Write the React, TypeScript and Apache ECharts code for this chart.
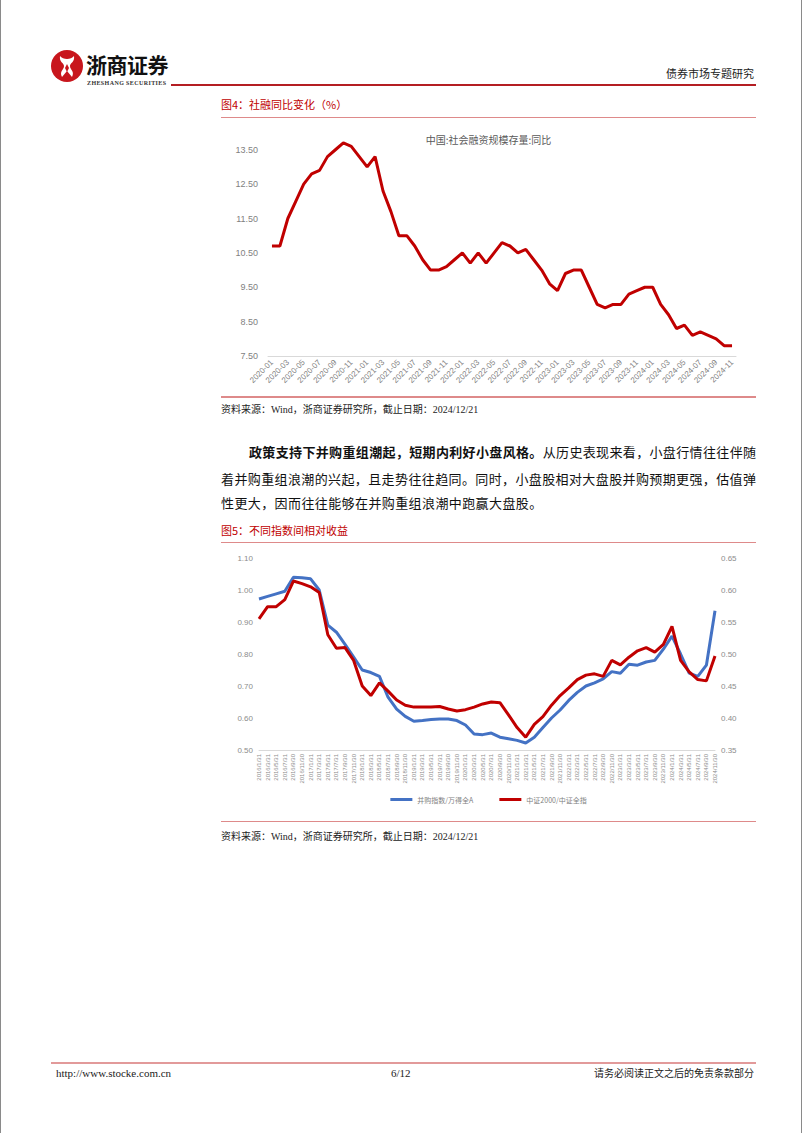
import React, { useEffect, useRef } from "react";
import * as echarts from "echarts";

// ---------- Chart 1 data: 社融存量同比 ----------
const months1 = [
  "2020-01","2020-02","2020-03","2020-04","2020-05","2020-06","2020-07","2020-08","2020-09","2020-10","2020-11","2020-12",
  "2021-01","2021-02","2021-03","2021-04","2021-05","2021-06","2021-07","2021-08","2021-09","2021-10","2021-11","2021-12",
  "2022-01","2022-02","2022-03","2022-04","2022-05","2022-06","2022-07","2022-08","2022-09","2022-10","2022-11","2022-12",
  "2023-01","2023-02","2023-03","2023-04","2023-05","2023-06","2023-07","2023-08","2023-09","2023-10","2023-11","2023-12",
  "2024-01","2024-02","2024-03","2024-04","2024-05","2024-06","2024-07","2024-08","2024-09","2024-10","2024-11",
];
const sfYoY = [
  10.7, 10.7, 11.5, 12.0, 12.5, 12.8, 12.9, 13.3, 13.5, 13.7, 13.6, 13.3,
  13.0, 13.3, 12.3, 11.7, 11.0, 11.0, 10.7, 10.3, 10.0, 10.0, 10.1, 10.3,
  10.5, 10.2, 10.5, 10.2, 10.5, 10.8, 10.7, 10.5, 10.6, 10.3, 10.0, 9.6,
  9.4, 9.9, 10.0, 10.0, 9.5, 9.0, 8.9, 9.0, 9.0, 9.3, 9.4, 9.5,
  9.5, 9.0, 8.7, 8.3, 8.4, 8.1, 8.2, 8.1, 8.0, 7.8, 7.8,
];
const chart1Title = "中国:社会融资规模存量:同比";

// ---------- Chart 2 data: 不同指数间相对收益 ----------
const dates2 = [
  "2016/1/31","2016/3/31","2016/5/31","2016/7/31","2016/9/30","2016/11/30",
  "2017/1/31","2017/3/31","2017/5/31","2017/7/31","2017/9/30","2017/11/30",
  "2018/1/31","2018/3/31","2018/5/31","2018/7/31","2018/9/30","2018/11/30",
  "2019/1/31","2019/3/31","2019/5/31","2019/7/31","2019/9/30","2019/11/30",
  "2020/1/31","2020/3/31","2020/5/31","2020/7/31","2020/9/30","2020/11/30",
  "2021/1/31","2021/3/31","2021/5/31","2021/7/31","2021/9/30","2021/11/30",
  "2022/1/31","2022/3/31","2022/5/31","2022/7/31","2022/9/30","2022/11/30",
  "2023/1/31","2023/3/31","2023/5/31","2023/7/31","2023/9/30","2023/11/30",
  "2024/1/31","2024/3/31","2024/5/31","2024/7/31","2024/9/30","2024/11/30",
];
const maIndexVsWindA = [
  0.972, 0.98, 0.988, 0.996, 1.04, 1.038, 1.035, 1.0, 0.89, 0.868,
  0.83, 0.79, 0.75, 0.742, 0.73, 0.665, 0.628, 0.605, 0.59, 0.592,
  0.595, 0.597, 0.597, 0.592, 0.578, 0.55, 0.548, 0.553, 0.54, 0.535,
  0.53, 0.522, 0.54, 0.57, 0.6, 0.625, 0.655, 0.68, 0.7, 0.71,
  0.722, 0.745, 0.74, 0.768, 0.765, 0.775, 0.78, 0.815, 0.856, 0.8,
  0.74, 0.73, 0.765, 0.935,
];
const csi2000VsCsiAll = [
  0.555, 0.574, 0.574, 0.585, 0.614, 0.61, 0.605, 0.596, 0.53, 0.509,
  0.51, 0.49, 0.45, 0.435, 0.455, 0.442, 0.428, 0.42, 0.417, 0.417,
  0.417, 0.418, 0.414, 0.411, 0.413, 0.417, 0.422, 0.425, 0.424, 0.405,
  0.385, 0.37, 0.39, 0.402, 0.42, 0.435, 0.447, 0.46, 0.467, 0.469,
  0.465, 0.49, 0.483, 0.495, 0.505, 0.51, 0.503, 0.515, 0.543, 0.49,
  0.472, 0.46, 0.458, 0.497,
];
const seriesNames2 = ["并购指数/万得全A", "中证2000/中证全指"];

const CJK = '"Noto Sans CJK SC", sans-serif';
const SERIF = '"Liberation Serif", "Noto Sans CJK SC", serif';
const RED = "#C00000";
const PINK = "#DE8A8A";

function absText(
  text: React.ReactNode,
  style: React.CSSProperties
): React.ReactElement {
  return <div style={{ position: "absolute", whiteSpace: "nowrap", ...style }}>{text}</div>;
}

export default function App() {
  const c1 = useRef<HTMLDivElement>(null);
  const c2 = useRef<HTMLDivElement>(null);

  useEffect(() => {
    const ch1 = echarts.init(c1.current!, null, { renderer: "svg" });
    ch1.setOption({
      animation: false,
      title: {
        text: chart1Title,
        left: "center",
        top: 9,
        textStyle: { fontSize: 10, color: "#595959", fontWeight: "normal", fontFamily: CJK },
      },
      grid: { left: 47, right: 20, top: 16, bottom: 39 },
      xAxis: {
        type: "category",
        data: months1,
        boundaryGap: true,
        axisLine: { lineStyle: { color: "#d9d9d9" } },
        axisTick: { show: false },
        axisLabel: {
          rotate: 45,
          interval: 1,
          fontSize: 8,
          color: "#7f7f7f",
          fontFamily: "Liberation Sans",
          margin: 5,
        },
      },
      yAxis: {
        type: "value",
        min: 7.5,
        max: 13.9,
        interval: 1,
        splitLine: { show: false },
        axisLine: { show: false },
        axisTick: { show: false },
        axisLabel: {
          fontSize: 9,
          color: "#7f7f7f",
          fontFamily: "Liberation Sans",
          margin: 10,
          formatter: (v: number) => {
            const k = v - 7.5;
            return Math.abs(k - Math.round(k)) < 1e-6 ? v.toFixed(2) : "";
          },
        },
      },
      series: [
        {
          type: "line",
          data: sfYoY,
          symbol: "none",
          lineStyle: { color: RED, width: 3 },
          itemStyle: { color: RED },
        },
      ],
    });

    const ch2 = echarts.init(c2.current!, null, { renderer: "svg" });
    ch2.setOption({
      animation: false,
      grid: { left: 38, right: 41, top: 13, bottom: 70 },
      legend: {
        data: seriesNames2,
        bottom: 12,
        left: "center",
        icon: "rect",
        itemWidth: 22,
        itemHeight: 3,
        itemGap: 26,
        textStyle: { fontSize: 7, color: "#7f7f7f", fontFamily: CJK },
      },
      xAxis: {
        type: "category",
        data: dates2,
        boundaryGap: false,
        axisLine: { lineStyle: { color: "#d9d9d9" } },
        axisTick: { show: false },
        axisLabel: {
          rotate: 90,
          interval: 0,
          fontSize: 6,
          color: "#8c8c8c",
          fontFamily: "Liberation Sans",
          margin: 4,
        },
      },
      yAxis: [
        {
          type: "value",
          min: 0.5,
          max: 1.1,
          interval: 0.1,
          splitLine: { show: false },
          axisLine: { show: false },
          axisTick: { show: false },
          axisLabel: {
            fontSize: 8,
            color: "#8c8c8c",
            fontFamily: "Liberation Sans",
            margin: 6,
            formatter: (v: number) => v.toFixed(2),
          },
        },
        {
          type: "value",
          min: 0.35,
          max: 0.65,
          interval: 0.05,
          splitLine: { show: false },
          axisLine: { show: false },
          axisTick: { show: false },
          axisLabel: {
            fontSize: 8,
            color: "#8c8c8c",
            fontFamily: "Liberation Sans",
            margin: 6,
            formatter: (v: number) => v.toFixed(2),
          },
        },
      ],
      series: [
        {
          name: seriesNames2[0],
          type: "line",
          yAxisIndex: 0,
          data: maIndexVsWindA,
          symbol: "none",
          lineStyle: { color: "#4472C4", width: 3 },
          itemStyle: { color: "#4472C4" },
        },
        {
          name: seriesNames2[1],
          type: "line",
          yAxisIndex: 1,
          data: csi2000VsCsiAll,
          symbol: "none",
          lineStyle: { color: RED, width: 3 },
          itemStyle: { color: RED },
        },
      ],
    });

    return () => {
      ch1.dispose();
      ch2.dispose();
    };
  }, []);

  const hline = (left: number, top: number, width: number, h: number, color: string) => (
    <div style={{ position: "absolute", left, top, width, height: h, background: color }} />
  );

  const bodyFont: React.CSSProperties = { fontFamily: SERIF, fontSize: 13, color: "#111", lineHeight: "16px" };

  return (
    <div
      style={{
        position: "absolute",
        left: 0,
        top: 0,
        width: 802,
        height: 1133,
        background: "#fff",
        overflow: "hidden",
        boxSizing: "border-box",
        borderLeft: "1px solid #8a8a8a",
        borderRight: "1px solid #8a8a8a",
      }}
    >
      {/* Logo */}
      <svg style={{ position: "absolute", left: 49, top: 49 }} width={34} height={34} viewBox="0 0 34 34">
        <circle cx={17} cy={17} r={16} fill="#C8161D" />
        <path d="M10 7 C13 11, 21 11, 24 7 C25 13, 20 14, 20 17 C20 21, 25 22, 22 28 L17 22 L12 28 C9 22, 14 21, 14 17 C14 14, 9 13, 10 7 Z" fill="#fff" />
        <path d="M17 15 L19 19 L17 23 L15 19 Z" fill="#C8161D" />
      </svg>
      {absText("浙商证券", {
        left: 85,
        top: 51,
        fontFamily: CJK,
        fontSize: 21,
        fontWeight: 700,
        lineHeight: "26px",
        color: "#111",
        letterSpacing: "-0.5px",
      })}
      {absText("ZHESHANG SECURITIES", {
        left: 86,
        top: 80,
        fontFamily: SERIF,
        fontSize: 6,
        fontWeight: 700,
        lineHeight: "7px",
        color: "#333",
        letterSpacing: "0.4px",
      })}
      {hline(170, 84, 585, 2, "#B41E23")}
      {absText("债券市场专题研究", {
        right: 47,
        top: 66,
        fontFamily: CJK,
        fontSize: 11,
        lineHeight: "14px",
        color: "#222",
      })}

      {/* Figure 4 */}
      {absText("图4：社融同比变化（%）", {
        left: 220,
        top: 97,
        fontFamily: CJK,
        fontSize: 11,
        lineHeight: "14px",
        color: RED,
      })}
      {hline(220, 117, 535, 1, PINK)}
      <div ref={c1} style={{ position: "absolute", left: 220, top: 120, width: 535, height: 275 }} />
      {hline(220, 396, 535, 2, PINK)}
      {absText("资料来源：Wind，浙商证券研究所，截止日期：2024/12/21", {
        left: 220,
        top: 403,
        fontFamily: SERIF,
        fontSize: 10,
        lineHeight: "14px",
        color: "#222",
      })}

      {/* Paragraph */}
      <div style={{ position: "absolute", left: 248, top: 445, width: 507, textAlign: "justify", textAlignLast: "justify", ...bodyFont }}>
        <b>政策支持下并购重组潮起，短期内利好小盘风格。</b>从历史表现来看，小盘行情往往伴随
      </div>
      <div style={{ position: "absolute", left: 220, top: 472, width: 535, textAlign: "justify", textAlignLast: "justify", ...bodyFont }}>
        着并购重组浪潮的兴起，且走势往往趋同。同时，小盘股相对大盘股并购预期更强，估值弹
      </div>
      <div style={{ position: "absolute", left: 220, top: 496, width: 535, letterSpacing: "0.4px", ...bodyFont }}>
        性更大，因而往往能够在并购重组浪潮中跑赢大盘股。
      </div>

      {/* Figure 5 */}
      {absText("图5：不同指数间相对收益", {
        left: 220,
        top: 523,
        fontFamily: CJK,
        fontSize: 11,
        lineHeight: "14px",
        color: RED,
      })}
      {hline(220, 542, 535, 1, PINK)}
      <div ref={c2} style={{ position: "absolute", left: 220, top: 545, width: 535, height: 275 }} />
      {hline(220, 821, 535, 1, PINK)}
      {absText("资料来源：Wind，浙商证券研究所，截止日期：2024/12/21", {
        left: 220,
        top: 830,
        fontFamily: SERIF,
        fontSize: 10,
        lineHeight: "14px",
        color: "#222",
      })}

      {/* Footer */}
      {hline(50, 1062, 705, 2, "#E29A9A")}
      {absText("http://www.stocke.com.cn", {
        left: 55,
        top: 1066,
        fontFamily: SERIF,
        fontSize: 11,
        lineHeight: "14px",
        color: "#222",
      })}
      {absText("6/12", {
        left: 390,
        top: 1066,
        fontFamily: SERIF,
        fontSize: 11,
        lineHeight: "14px",
        color: "#222",
      })}
      {absText("请务必阅读正文之后的免责条款部分", {
        right: 47,
        top: 1066,
        fontFamily: CJK,
        fontSize: 10,
        lineHeight: "14px",
        color: "#222",
      })}
    </div>
  );
}
